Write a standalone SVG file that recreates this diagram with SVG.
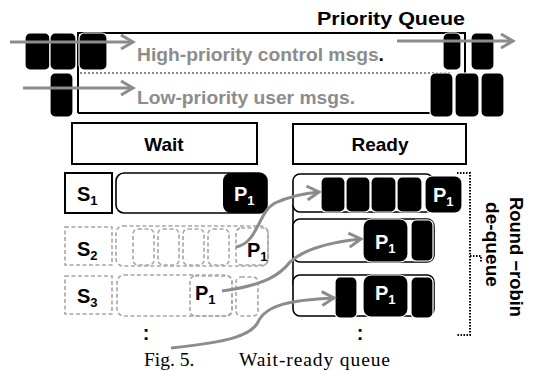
<svg xmlns="http://www.w3.org/2000/svg" width="541" height="371" viewBox="0 0 541 371">
  <style>
    text { font-family: "Liberation Sans", "Open Sans", Arial, sans-serif; font-weight: bold; }
    .t { fill: #000; }
    .g { fill: #8c8c8c; }
    .w { fill: #fff; }
    .lbl { font-size: 20px; }
    .sub { font-size: 13px; }
    .cap { font-family: "Liberation Serif", "Times New Roman", serif; font-weight: normal; font-size: 19.5px; fill: #000; }
    .box { fill: #fff; stroke: #000; stroke-width: 2; }
    .row { fill: #fff; stroke: #000; stroke-width: 1.6; }
    .blk { fill: #000; stroke: #fff; stroke-width: 1.2; }
    .ghost { fill: none; stroke: #a6a6a6; stroke-width: 1.6; stroke-dasharray: 4 2.5; }
    .arrow { fill: none; stroke: #8c8c8c; stroke-width: 3; marker-end: url(#chev); }
    .dot { fill: none; stroke: #000; stroke-width: 2; stroke-dasharray: 1.5 1.5; }
  </style>
  <defs>
    <marker id="chev" markerUnits="userSpaceOnUse" markerWidth="20" markerHeight="20" viewBox="-15 -10 20 20" refX="0" refY="0" orient="auto">
      <path d="M-12,-7 L0,0 L-12,7" fill="none" stroke="#8c8c8c" stroke-width="3"/>
    </marker>
  </defs>

  <rect width="541" height="371" fill="#fff"/>

  <!-- priority queue: two lanes with queued messages on each side -->
  <g id="priority-queue">
    <text x="317" y="25" class="t" font-size="19" textLength="148" lengthAdjust="spacingAndGlyphs">Priority Queue</text>
    <path d="M78,113 V33 H465 V73" fill="none" stroke="#000" stroke-width="2"/>
    <path d="M78,113 H440" fill="none" stroke="#000" stroke-width="2"/>
    <path d="M80,73 H450" fill="none" stroke="#8c8c8c" stroke-width="2" stroke-dasharray="2 2"/>
    <text x="137" y="61" class="g" font-size="18" textLength="247" lengthAdjust="spacingAndGlyphs">High-priority control msgs<tspan class="t">.</tspan></text>
    <text x="137" y="104" class="g" font-size="18" textLength="218" lengthAdjust="spacingAndGlyphs">Low-priority user msgs.</text>
    <rect class="blk" x="25" y="33" width="25" height="37" rx="5"/>
    <rect class="blk" x="50" y="33" width="26" height="37" rx="5"/>
    <rect class="blk" x="79" y="33" width="28" height="37" rx="5"/>
    <rect class="blk" x="50" y="73" width="23" height="44" rx="5"/>
    <rect class="blk" x="443" y="33" width="18" height="37" rx="5"/>
    <rect class="blk" x="471" y="33" width="23" height="37" rx="5"/>
    <rect class="blk" x="430" y="73" width="23" height="44" rx="5"/>
    <rect class="blk" x="455" y="73" width="24" height="44" rx="5"/>
    <rect class="blk" x="481" y="73" width="23" height="44" rx="5"/>
  </g>

  <!-- wait side -->
  <g id="wait">
    <rect class="box" x="72" y="123" width="185" height="41"/>
    <text x="164" y="151" class="t" font-size="19" text-anchor="middle">Wait</text>
  </g>
  <g id="wait-row-1">
    <rect class="box" x="65" y="173" width="47" height="40"/>
    <text x="77" y="201" class="t lbl">S<tspan class="sub" dy="4">1</tspan></text>
    <rect class="row" x="116" y="173" width="151" height="40" rx="8"/>
    <rect x="223" y="173" width="44" height="40" rx="8" fill="#000"/>
    <text x="234" y="201" class="w lbl">P<tspan class="sub" dy="4">1</tspan></text>
  </g>
  <g id="wait-row-2">
    <rect class="ghost" x="65" y="227" width="47" height="38"/>
    <text x="77" y="256" class="t lbl">S<tspan class="sub" dy="4">2</tspan></text>
    <rect class="ghost" x="116" y="226" width="152" height="40" rx="7"/>
    <rect class="ghost" x="133" y="229" width="21" height="36" rx="5"/>
    <rect class="ghost" x="158" y="229" width="21" height="36" rx="5"/>
    <rect class="ghost" x="183" y="229" width="21" height="36" rx="5"/>
    <rect class="ghost" x="208" y="229" width="21" height="36" rx="5"/>
    <rect class="ghost" x="236" y="228" width="32" height="37" rx="5"/>
    <text x="247" y="257" class="t lbl">P<tspan class="sub" dy="4">1</tspan></text>
  </g>
  <g id="wait-row-3">
    <rect class="ghost" x="65" y="276" width="47" height="38"/>
    <text x="77" y="303" class="t lbl">S<tspan class="sub" dy="4">3</tspan></text>
    <rect class="ghost" x="117" y="275" width="115" height="41" rx="7"/>
    <rect class="ghost" x="190" y="276" width="42" height="40" rx="5"/>
    <rect class="ghost" x="236" y="277" width="22" height="39" rx="5"/>
    <text x="195" y="300" class="t lbl">P<tspan class="sub" dy="4">1</tspan></text>
    <text x="146" y="340" class="t lbl" text-anchor="middle">:</text>
  </g>

  <!-- ready side -->
  <g id="ready">
    <rect class="box" x="293" y="124" width="173" height="40"/>
    <text x="380" y="151" class="t" font-size="19" text-anchor="middle">Ready</text>
    <path d="M293,205 V285" fill="none" stroke="#000" stroke-width="1.6"/>
  </g>
  <g id="ready-row-1">
    <rect class="row" x="293" y="174" width="140" height="38" rx="7"/>
    <rect class="blk" x="321" y="177" width="24" height="35" rx="5"/>
    <rect class="blk" x="346" y="177" width="24" height="35" rx="5"/>
    <rect class="blk" x="371" y="177" width="25" height="35" rx="5"/>
    <rect class="blk" x="397" y="177" width="25" height="35" rx="5"/>
    <rect class="blk" x="425" y="176" width="37" height="37" rx="7"/>
    <text x="433" y="202" class="w lbl">P<tspan class="sub" dy="4">1</tspan></text>
  </g>
  <g id="ready-row-2">
    <rect class="row" x="293" y="219" width="141" height="43" rx="7"/>
    <rect class="blk" x="363" y="219" width="45" height="43" rx="8"/>
    <rect class="blk" x="411" y="220" width="22" height="41" rx="5"/>
    <text x="375" y="249" class="w lbl">P<tspan class="sub" dy="4">1</tspan></text>
  </g>
  <g id="ready-row-3">
    <rect class="row" x="293" y="275" width="141" height="41" rx="7"/>
    <rect class="blk" x="335" y="277" width="22" height="41" rx="5"/>
    <rect class="blk" x="363" y="275" width="45" height="42" rx="8"/>
    <rect class="blk" x="411" y="277" width="22" height="41" rx="5"/>
    <text x="375" y="300" class="w lbl">P<tspan class="sub" dy="4">1</tspan></text>
    <text x="360" y="340" class="t lbl" text-anchor="middle">:</text>
  </g>

  <!-- round-robin bracket -->
  <g id="round-robin">
    <path class="dot" d="M457,173 H470 V335 H457"/>
    <path class="dot" d="M470,256 H481 V262"/>
    <text transform="translate(510,197) rotate(90)" class="t" font-size="19" textLength="120" lengthAdjust="spacingAndGlyphs">Round −robin</text>
    <text transform="translate(486,202) rotate(90)" class="t" font-size="19" textLength="85" lengthAdjust="spacingAndGlyphs">de-queue</text>
  </g>

  <!-- connectors -->
  <g id="connectors">
    <path class="arrow" d="M10,42 H133"/>
    <path class="arrow" d="M23,88 H133"/>
    <path class="arrow" d="M397,41 H513"/>
    <path class="arrow" d="M236,247 C258,243 258,212 275,203 Q295,194 319,192"/>
    <path class="arrow" d="M222,291 C265,285 280,275 290,262 Q310,244 361,239"/>
    <path class="arrow" d="M171,348 C230,342 252,335 258,322 C266,305 290,300 334,298"/>
  </g>

  <g id="caption">
    <text x="144" y="366" class="cap">Fig. 5.</text>
    <text x="239" y="366" class="cap" textLength="151" lengthAdjust="spacing">Wait-ready queue</text>
  </g>
</svg>
